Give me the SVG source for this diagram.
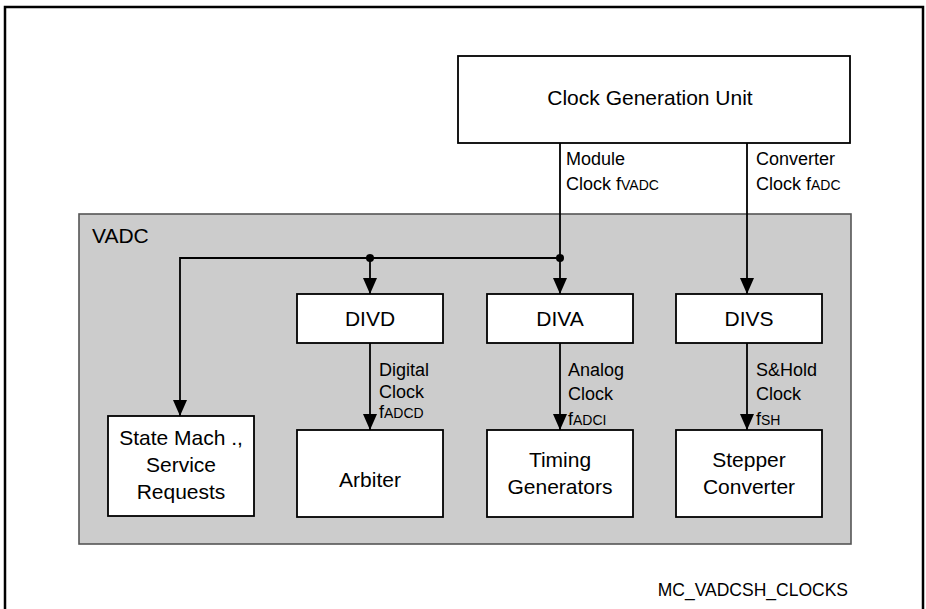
<svg xmlns="http://www.w3.org/2000/svg" width="926" height="609" viewBox="0 0 926 609">
<style>
text{font-family:"Liberation Sans",Arial,sans-serif;fill:#000}
.box{fill:#fff;stroke:#000;stroke-width:1.8}
.bt{font-size:21px;text-anchor:middle}
.lb{font-size:18px}
.sub{font-size:14px}
.wire{fill:none;stroke:#000;stroke-width:1.8}
</style>
<defs>
<marker id="arr" markerUnits="userSpaceOnUse" markerWidth="16" markerHeight="14" viewBox="0 0 16 14" refX="16" refY="7" orient="auto">
<path d="M0,0 L16,7 L0,14 z" fill="#000"/>
</marker>
</defs>
<rect width="926" height="609" fill="#fff"/>
<path d="M5,612 V7 H923 V612" fill="none" stroke="#000" stroke-width="2.5"/>
<g id="vadc">
<rect x="79" y="214" width="772" height="330" fill="#cccccc" stroke="#555" stroke-width="1.6"/>
<text x="92" y="243" font-size="21px">VADC</text>
</g>
<g id="cgu">
<rect class="box" x="458" y="56" width="392" height="87"/>
<text class="bt" x="650" y="105">Clock Generation Unit</text>
</g>
<g id="divd">
<rect class="box" x="297" y="294" width="146" height="49"/>
<text class="bt" x="370" y="326">DIVD</text>
</g>
<g id="diva">
<rect class="box" x="487" y="294" width="146" height="49"/>
<text class="bt" x="560" y="326">DIVA</text>
</g>
<g id="divs">
<rect class="box" x="676" y="294" width="146" height="49"/>
<text class="bt" x="749" y="326">DIVS</text>
</g>
<g id="statemach">
<rect class="box" x="108" y="416" width="146" height="100"/>
<text class="bt" x="181" y="445">State Mach .,</text>
<text class="bt" x="181" y="472">Service</text>
<text class="bt" x="181" y="499">Requests</text>
</g>
<g id="arbiter">
<rect class="box" x="297" y="430" width="146" height="87"/>
<text class="bt" x="370" y="487">Arbiter</text>
</g>
<g id="timing">
<rect class="box" x="487" y="430" width="146" height="87"/>
<text class="bt" x="560" y="467">Timing</text>
<text class="bt" x="560" y="494">Generators</text>
</g>
<g id="stepper">
<rect class="box" x="676" y="430" width="146" height="87"/>
<text class="bt" x="749" y="467">Stepper</text>
<text class="bt" x="749" y="494">Converter</text>
</g>
<g id="connectors">
<path class="wire" d="M560,143 V294" marker-end="url(#arr)"/>
<path class="wire" d="M560,258 H180 V416" marker-end="url(#arr)"/>
<path class="wire" d="M370,258 V294" marker-end="url(#arr)"/>
<path class="wire" d="M747,143 V294" marker-end="url(#arr)"/>
<path class="wire" d="M370,343 V430" marker-end="url(#arr)"/>
<path class="wire" d="M560,343 V430" marker-end="url(#arr)"/>
<path class="wire" d="M747,343 V430" marker-end="url(#arr)"/>
<circle cx="560" cy="258" r="4" fill="#000"/>
<circle cx="370" cy="258" r="4" fill="#000"/>
<text class="lb" x="566" y="165">Module</text>
<text class="lb" x="566" y="190">Clock f<tspan class="sub">VADC</tspan></text>
<text class="lb" x="756" y="165">Converter</text>
<text class="lb" x="756" y="190">Clock f<tspan class="sub">ADC</tspan></text>
<text class="lb" x="379" y="376">Digital</text>
<text class="lb" x="379" y="398">Clock</text>
<text class="lb" x="379" y="418">f<tspan class="sub">ADCD</tspan></text>
<text class="lb" x="568" y="376">Analog</text>
<text class="lb" x="568" y="400">Clock</text>
<text class="lb" x="568" y="425">f<tspan class="sub">ADCI</tspan></text>
<text class="lb" x="756" y="376">S&amp;Hold</text>
<text class="lb" x="756" y="400">Clock</text>
<text class="lb" x="756" y="425">f<tspan class="sub">SH</tspan></text>
</g>
<text x="848" y="596" font-size="17.5px" text-anchor="end">MC_VADCSH_CLOCKS</text>
</svg>
